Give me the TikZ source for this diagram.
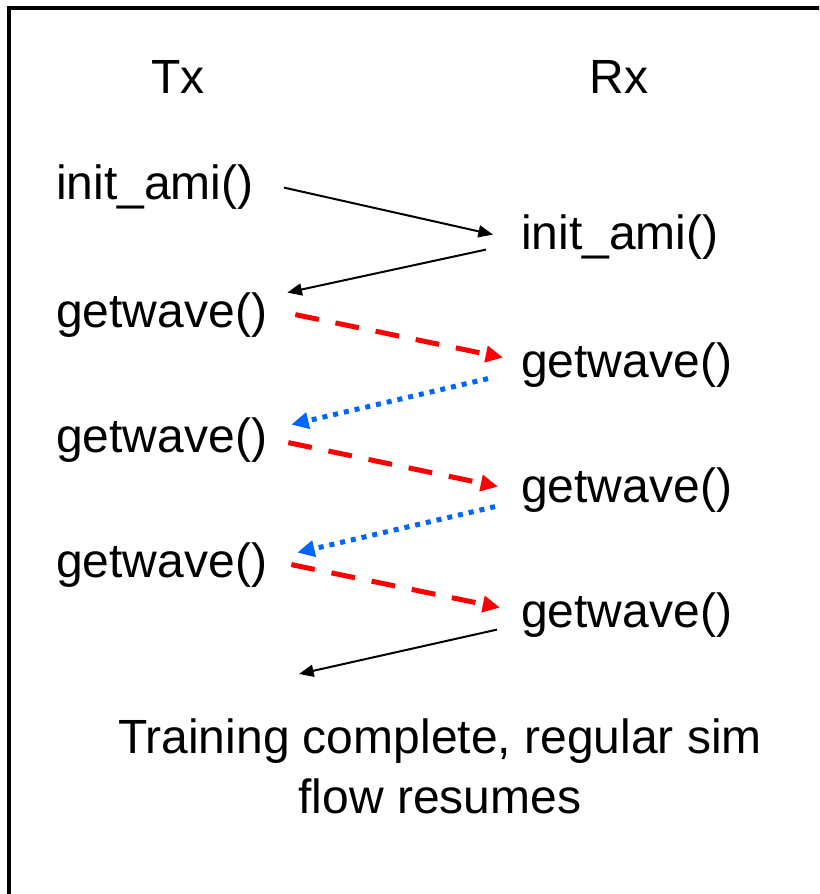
\documentclass[tikz,border=0pt]{standalone}
\usepackage{fontspec}
\setmainfont{Liberation Sans}
\usetikzlibrary{arrows.meta,calc}

\definecolor{sigred}{RGB}{255,0,0}
\definecolor{sigblue}{RGB}{0,102,255}

\tikzset{
  call/.style={inner sep=0pt, font=\fontsize{36}{45}\selectfont},
  txcall/.style={call, anchor=base west},
  rxcall/.style={call, anchor=base west},
  plain/.style={line width=1.5pt, -{Triangle[length=11pt,width=9pt]}},
  fwd/.style={sigred, line width=3.75pt, dash pattern=on 18pt off 12.75pt,
    -{Triangle[length=13pt,width=12pt]}},
  back/.style={sigblue, line width=3.75pt, dash pattern=on 3.75pt off 4.5pt,
    -{Triangle[length=13pt,width=12pt]}},
}

\begin{document}
\begin{tikzpicture}[x=0.75pt,y=-0.75pt]
\useasboundingbox (0,0) rectangle (819,894);
\clip (0,0) rectangle (819,894);

% frame, cut off at the right and bottom
\draw[line width=3pt] (8.5,960) |- (900,8);

% column heads
\node[call, anchor=base] (tx) at (178,93) {Tx};
\node[call, anchor=base] (rx) at (619,93) {Rx};

% Tx side calls
\node[txcall] (txinit) at (56,199) {init\_ami()};
\node[txcall] (txwave1) at (56,327) {getwave()};
\node[txcall] (txwave2) at (56,452) {getwave()};
\node[txcall] (txwave3) at (56,577) {getwave()};

% Rx side calls
\node[rxcall] (rxinit) at (521,249) {init\_ami()};
\node[rxcall] (rxwave1) at (521,377) {getwave()};
\node[rxcall] (rxwave2) at (521,502) {getwave()};
\node[rxcall] (rxwave3) at (521,627) {getwave()};

% closing note
\node[call, align=center, anchor=base] (done) at (440,813) {Training complete, regular sim\\flow resumes};
\coordinate (resume) at (299,674);

% init handshake
\draw[plain] ($(txinit.east)+(30,1)$) -- ($(rxinit.west)+(-28,-2)$);
\draw[plain] ($(rxinit.west)+(-35,13)$) -- ($(txwave1.east)+(20,-22)$);

% training loop
\draw[fwd] ($(txwave1.east)+(28,0)$) -- ($(rxwave1.west)+(-18,-7)$);
\draw[back] ($(rxwave1.west)+(-33,14)$) -- ($(txwave2.east)+(24,-15)$);

\draw[fwd] ($(txwave2.east)+(21,3)$) -- ($(rxwave2.west)+(-23,-3)$);
\draw[back] ($(rxwave2.west)+(-26,17)$) -- ($(txwave3.east)+(30,-12)$);

\draw[fwd] ($(txwave3.east)+(24,0)$) -- ($(rxwave3.west)+(-21,-7)$);
\draw[plain] ($(rxwave3.west)+(-24,15)$) -- (resume);
\end{tikzpicture}
\end{document}
